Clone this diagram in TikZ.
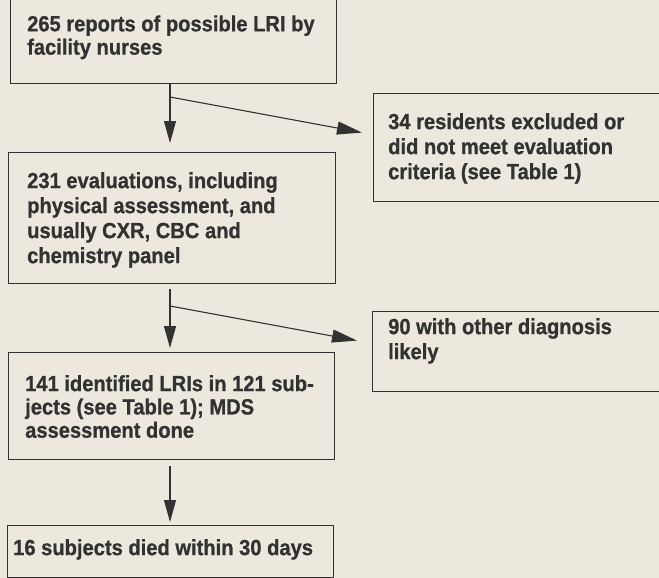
\documentclass[tikz,border=0pt]{standalone}
\usepackage{fontspec}
\setmainfont{Liberation Sans}[FakeStretch=0.915,BoldFeatures={FakeBold=0.8}]
\usetikzlibrary{arrows.meta,calc}
\definecolor{paper}{RGB}{236,232,221}
\definecolor{ink}{RGB}{50,50,50}
\begin{document}
\begin{tikzpicture}[x=1pt,y=-1pt,
  box/.style={draw=ink,line width=1.2pt,anchor=north west,inner sep=0pt},
  txt/.style={anchor=north west,inner sep=0pt,align=left,text=ink,
    font=\fontsize{22pt}{25pt}\selectfont\bfseries},
  tight/.style={font=\fontsize{22pt}{23.3pt}\selectfont\bfseries},
  arr/.style={draw=ink,line width=1.1pt,-{Triangle[length=22pt,width=12pt]}},
  barr/.style={draw=ink,line width=1.1pt,-{Triangle[length=25pt,width=13pt]}}]
\clip (0,0) rectangle (659,578);
\fill[paper] (0,0) rectangle (659,578);
% boxes
\node[box,minimum width=326pt,minimum height=93pt] (box1) at (10,-10) {};
\node[box,minimum width=327pt,minimum height=131pt] (box2) at (8,152) {};
\node[box,minimum width=310pt,minimum height=108pt] (box3) at (373,93) {};
\node[box,minimum width=310pt,minimum height=80pt] (box4) at (372,311) {};
\node[box,minimum width=326pt,minimum height=107pt] (box5) at (8,352) {};
\node[box,minimum width=326pt,minimum height=52pt] (box6) at (7,525) {};
% texts
\node[txt,tight] (t1) at (27,15.2) {265 reports of possible LRI by\\facility nurses};
\node[txt] (t2) at (27,172) {231 evaluations, including\\physical assessment, and\\usually CXR, CBC and\\chemistry panel};
\node[txt] (t3) at (388,113) {34 residents excluded or\\did not meet evaluation\\criteria (see Table 1)};
\node[txt] (t4) at (388,318) {90 with other diagnosis\\likely};
\node[txt,tight] (t5) at (25,375) {141 identified LRIs in 121 sub-\\jects (see Table 1); MDS\\assessment done};
\node[txt] (t6) at (13,539) {16 subjects died within 30 days};
% connectors
\coordinate (v) at (170,0);
\coordinate (b1) at (170,97);
\coordinate (b2) at (170,306);
\draw[arr] (box1.south -| v) -- ([yshift=9pt]box2.north -| v);
\draw[barr] (b1) -- ([shift={(-11pt,15pt)}]box3.west);
\draw[arr] ([yshift=-5pt]box2.south -| v) -- ([yshift=4pt]box5.north -| v);
\draw[barr] (b2) -- ([shift={(-15pt,11pt)}]box4.west);
\draw[arr] ([yshift=-6pt]box5.south -| v) -- ([yshift=3pt]box6.north -| v);
\end{tikzpicture}
\end{document}
